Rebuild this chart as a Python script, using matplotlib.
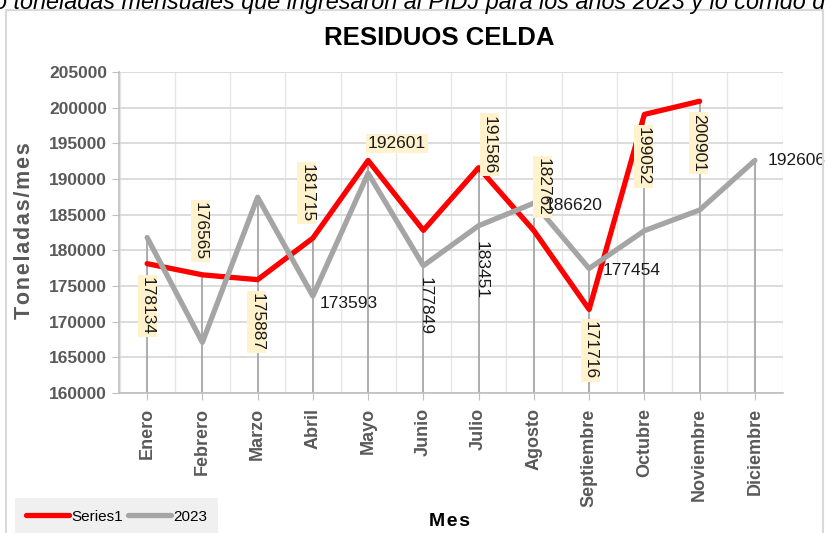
import matplotlib
matplotlib.use("Agg")
import matplotlib.pyplot as plt
import matplotlib.patches as mpatches
from matplotlib.lines import Line2D
from matplotlib.ticker import MultipleLocator

# datos
meses = ['Enero', 'Febrero', 'Marzo', 'Abril', 'Mayo', 'Junio', 'Julio', 'Agosto',
         'Septiembre', 'Octubre', 'Noviembre', 'Diciembre']
serie1 = [178134, 176565, 175887, 181715, 192601, 182800, 191586, 182762,
          171716, 199052, 200901]
serie2023 = [181800, 167100, 187450, 173593, 190800, 177849, 183451, 186620,
             177454, 182750, 185650, 192606]

# etiquetas visibles
etq_serie1 = [0, 1, 2, 3, 4, 6, 7, 8, 9, 10]
etq_2023 = [3, 5, 6, 7, 8, 11]

ROJO = '#ff0000'
GRIS = '#a5a5a5'
TXT = '#595959'

plt.rcParams['font.family'] = ['Liberation Sans', 'DejaVu Sans']

fig = plt.figure(figsize=(8.25, 5.33), dpi=100)
W, H = 825, 533

# marco del grafico
fig.patches.append(mpatches.Rectangle((6 / W, -0.05), 817 / W, 1.05 - 10 / H,
                                      transform=fig.transFigure, fill=False,
                                      edgecolor='#d9d9d9', lw=1.5))

fig.text(-6 / W, 1 - 9 / H, 'o toneladas mensuales que ingresaron al PIDJ para los años 2023 y lo corrido del',
         style='italic', fontsize=16.8, va='baseline', ha='left')

ax = fig.add_axes([119.5 / W, 1 - 393 / H, 663 / W, 321 / H])
x = list(range(len(meses)))

ax.set_xlim(-0.5, 11.5)
ax.set_ylim(160000, 205000)
ax.yaxis.set_major_locator(MultipleLocator(5000))
ax.xaxis.set_minor_locator(MultipleLocator(0.5))
ax.grid(axis='y', which='major', color='#d9d9d9', lw=1.3, zorder=0)
ax.grid(axis='x', which='minor', color='#e6e6e6', lw=1.0, zorder=0)
ax.set_axisbelow(True)

# lineas de proyeccion
tops = [max(a, b) for a, b in zip(serie1 + [0], serie2023)]
ax.vlines(x, 160000, tops, color='#a6a6a6', lw=1.3, zorder=1)

ax.plot(x[:len(serie1)], serie1, color=ROJO, lw=3.8, solid_joinstyle='round',
        solid_capstyle='round', zorder=2, label='Series1')
ax.plot(x, serie2023, color=GRIS, lw=3.8, solid_joinstyle='round',
        solid_capstyle='round', zorder=3, label='2023')

# etiquetas Series1 (desplazamientos en px)
off1 = {0: (0, -42, 270), 1: (-2, 44, 270), 2: (-1, -42, 270), 3: (-6, 45, 270),
        4: (29, 17, 0), 6: (11, 23, 270), 7: (9, 44, 270), 8: (1, -41, 270),
        9: (-1, -42, 270), 10: (-1, -42, 270)}
for i in etq_serie1:
    dx, dy, rot = off1[i]
    ax.annotate(str(serie1[i]), (i, serie1[i]), xytext=(dx * 0.72, dy * 0.72),
                textcoords='offset points', ha='center', va='center', rotation=rot,
                fontsize=12.5, color='#1a1a1a', zorder=5,
                bbox=dict(boxstyle='square,pad=0.12', fc='#fff2cc', ec='none'))

off2 = {3: (7, -7, 0), 5: (2, -40, 270), 6: (3, -44, 270), 7: (11, -2, 0),
        8: (13, -2, 0), 11: (13, 0, 0)}
for i in etq_2023:
    dx, dy, rot = off2[i]
    ax.annotate(str(serie2023[i]), (i, serie2023[i]), xytext=(dx * 0.72, dy * 0.72),
                textcoords='offset points', ha='left' if rot == 0 else 'center',
                va='center', rotation=rot, fontsize=12.5, color='#1a1a1a', zorder=5,
                annotation_clip=False)

ax.set_xticks(x)
ax.set_xticklabels(meses, rotation=90, fontsize=13, fontweight='bold', color=TXT)
ax.tick_params(axis='x', which='major', length=5, color='#bfbfbf', pad=6)
ax.tick_params(axis='x', which='minor', length=0)
ax.tick_params(axis='y', length=5, color='#bfbfbf', labelsize=12.5, labelcolor=TXT, pad=4)
for t in ax.get_yticklabels():
    t.set_fontweight('bold')

for s in ['top', 'right']:
    ax.spines[s].set_visible(False)
for s in ['left', 'bottom']:
    ax.spines[s].set_color('#bfbfbf')
    ax.spines[s].set_linewidth(1.2)

fig.text(439 / W, 1 - 38 / H, 'RESIDUOS CELDA', fontsize=18.5, fontweight='bold',
         ha='center', va='center')
fig.text(25 / W, 1 - 231 / H, 'T\u200ao\u200an\u200ae\u200al\u200aa\u200ad\u200aa\u200as\u200a/\u200am\u200ae\u200as',
         rotation=90, fontsize=15.5, fontweight='bold', color=TXT, ha='center', va='center')
fig.text(450 / W, 1 - 522 / H, 'M\u200ae\u200as', fontsize=14, fontweight='bold',
         ha='center', va='center')

handles = [Line2D([], [], color=ROJO, lw=3.8, solid_capstyle='round'),
           Line2D([], [], color=GRIS, lw=3.8, solid_capstyle='round')]
leg = fig.legend(handles, ['Series1', '2023'], loc='lower left',
                 bbox_to_anchor=(15 / W, -0.004), ncol=2, frameon=True, fancybox=False,
                 handlelength=2.8, handletextpad=0.15, columnspacing=0.3,
                 borderaxespad=0, borderpad=0.75, prop={'size': 11})
leg.get_frame().set_facecolor('#ededed')
leg.get_frame().set_edgecolor('none')

fig.savefig('out.png', dpi=100)
